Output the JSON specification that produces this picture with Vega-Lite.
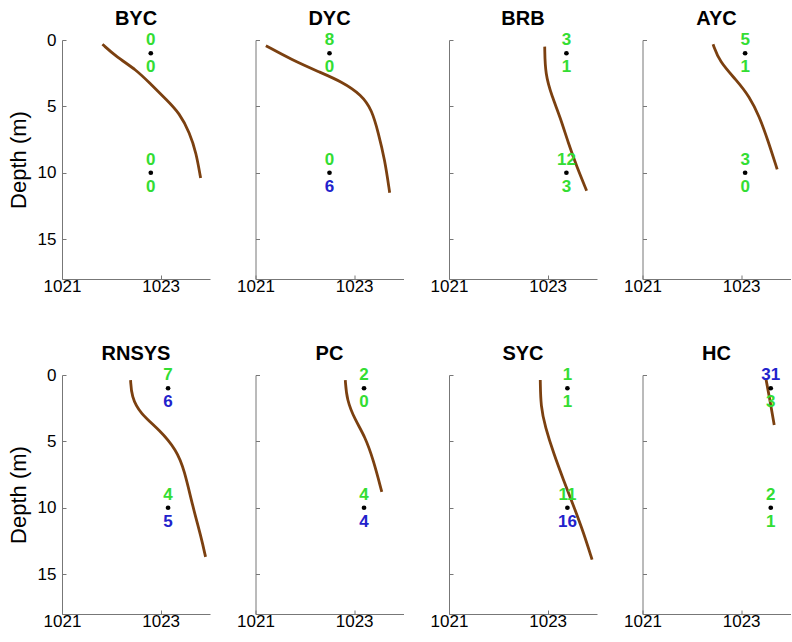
{
  "$schema": "https://vega.github.io/schema/vega-lite/v6.json",
  "padding": {"left": 7, "top": 9, "right": 5, "bottom": 5},
  "background": "white",
  "data": {"values": [
    {"site":"BYC","kind":"c","x":1021.82,"depth":0.32},{"site":"BYC","kind":"c","x":1022.1,"depth":1.26},{"site":"BYC","kind":"c","x":1022.51,"depth":2.26},{"site":"BYC","kind":"c","x":1022.78,"depth":3.26},{"site":"BYC","kind":"c","x":1023.12,"depth":4.5},{"site":"BYC","kind":"c","x":1023.38,"depth":5.5},{"site":"BYC","kind":"c","x":1023.59,"depth":7.0},{"site":"BYC","kind":"c","x":1023.72,"depth":8.5},{"site":"BYC","kind":"c","x":1023.81,"depth":10.4},
    {"site":"DYC","kind":"c","x":1021.21,"depth":0.43},{"site":"DYC","kind":"c","x":1021.74,"depth":1.5},{"site":"DYC","kind":"c","x":1022.28,"depth":2.39},{"site":"DYC","kind":"c","x":1022.75,"depth":3.14},{"site":"DYC","kind":"c","x":1023.15,"depth":4.14},{"site":"DYC","kind":"c","x":1023.36,"depth":5.27},{"site":"DYC","kind":"c","x":1023.49,"depth":7.0},{"site":"DYC","kind":"c","x":1023.62,"depth":9.0},{"site":"DYC","kind":"c","x":1023.72,"depth":11.5},
    {"site":"BRB","kind":"c","x":1022.94,"depth":0.5},{"site":"BRB","kind":"c","x":1022.95,"depth":2.6},{"site":"BRB","kind":"c","x":1023.09,"depth":4.27},{"site":"BRB","kind":"c","x":1023.25,"depth":5.77},{"site":"BRB","kind":"c","x":1023.42,"depth":7.78},{"site":"BRB","kind":"c","x":1023.59,"depth":9.54},{"site":"BRB","kind":"c","x":1023.79,"depth":11.35},
    {"site":"AYC","kind":"c","x":1022.43,"depth":0.32},{"site":"AYC","kind":"c","x":1022.56,"depth":1.63},{"site":"AYC","kind":"c","x":1022.9,"depth":3.0},{"site":"AYC","kind":"c","x":1023.17,"depth":4.27},{"site":"AYC","kind":"c","x":1023.37,"depth":5.77},{"site":"AYC","kind":"c","x":1023.54,"depth":7.53},{"site":"AYC","kind":"c","x":1023.73,"depth":9.74},
    {"site":"RNSYS","kind":"c","x":1022.39,"depth":0.38},{"site":"RNSYS","kind":"c","x":1022.41,"depth":1.63},{"site":"RNSYS","kind":"c","x":1022.58,"depth":2.89},{"site":"RNSYS","kind":"c","x":1022.98,"depth":4.14},{"site":"RNSYS","kind":"c","x":1023.32,"depth":5.65},{"site":"RNSYS","kind":"c","x":1023.48,"depth":7.15},{"site":"RNSYS","kind":"c","x":1023.65,"depth":9.9},{"site":"RNSYS","kind":"c","x":1023.82,"depth":12.2},{"site":"RNSYS","kind":"c","x":1023.91,"depth":13.7},
    {"site":"PC","kind":"c","x":1022.82,"depth":0.38},{"site":"PC","kind":"c","x":1022.85,"depth":1.88},{"site":"PC","kind":"c","x":1023.02,"depth":3.39},{"site":"PC","kind":"c","x":1023.22,"depth":4.64},{"site":"PC","kind":"c","x":1023.39,"depth":6.4},{"site":"PC","kind":"c","x":1023.56,"depth":8.8},
    {"site":"SYC","kind":"c","x":1022.85,"depth":0.38},{"site":"SYC","kind":"c","x":1022.86,"depth":2.39},{"site":"SYC","kind":"c","x":1022.95,"depth":3.89},{"site":"SYC","kind":"c","x":1023.12,"depth":5.9},{"site":"SYC","kind":"c","x":1023.32,"depth":7.9},{"site":"SYC","kind":"c","x":1023.53,"depth":9.9},{"site":"SYC","kind":"c","x":1023.73,"depth":11.9},{"site":"SYC","kind":"c","x":1023.9,"depth":13.9},
    {"site":"HC","kind":"c","x":1023.5,"depth":0.25},{"site":"HC","kind":"c","x":1023.57,"depth":1.63},{"site":"HC","kind":"c","x":1023.67,"depth":3.76},
    {"site":"BYC","kind":"t","x":1022.8,"depth":1,"n":"0","cls":"g"},{"site":"BYC","kind":"b","x":1022.8,"depth":1,"n":"0","cls":"g"},{"site":"BYC","kind":"t","x":1022.8,"depth":10,"n":"0","cls":"g"},{"site":"BYC","kind":"b","x":1022.8,"depth":10,"n":"0","cls":"g"},
    {"site":"DYC","kind":"t","x":1022.5,"depth":1,"n":"8","cls":"g"},{"site":"DYC","kind":"b","x":1022.5,"depth":1,"n":"0","cls":"g"},{"site":"DYC","kind":"t","x":1022.5,"depth":10,"n":"0","cls":"g"},{"site":"DYC","kind":"b","x":1022.5,"depth":10,"n":"6","cls":"b"},
    {"site":"BRB","kind":"t","x":1023.38,"depth":1,"n":"3","cls":"g"},{"site":"BRB","kind":"b","x":1023.38,"depth":1,"n":"1","cls":"g"},{"site":"BRB","kind":"t","x":1023.38,"depth":10,"n":"12","cls":"g"},{"site":"BRB","kind":"b","x":1023.38,"depth":10,"n":"3","cls":"g"},
    {"site":"AYC","kind":"t","x":1023.08,"depth":1,"n":"5","cls":"g"},{"site":"AYC","kind":"b","x":1023.08,"depth":1,"n":"1","cls":"g"},{"site":"AYC","kind":"t","x":1023.08,"depth":10,"n":"3","cls":"g"},{"site":"AYC","kind":"b","x":1023.08,"depth":10,"n":"0","cls":"g"},
    {"site":"RNSYS","kind":"t","x":1023.15,"depth":1,"n":"7","cls":"g"},{"site":"RNSYS","kind":"b","x":1023.15,"depth":1,"n":"6","cls":"b"},{"site":"RNSYS","kind":"t","x":1023.15,"depth":10,"n":"4","cls":"g"},{"site":"RNSYS","kind":"b","x":1023.15,"depth":10,"n":"5","cls":"b"},
    {"site":"PC","kind":"t","x":1023.2,"depth":1,"n":"2","cls":"g"},{"site":"PC","kind":"b","x":1023.2,"depth":1,"n":"0","cls":"g"},{"site":"PC","kind":"t","x":1023.2,"depth":10,"n":"4","cls":"g"},{"site":"PC","kind":"b","x":1023.2,"depth":10,"n":"4","cls":"b"},
    {"site":"SYC","kind":"t","x":1023.4,"depth":1,"n":"1","cls":"g"},{"site":"SYC","kind":"b","x":1023.4,"depth":1,"n":"1","cls":"g"},{"site":"SYC","kind":"t","x":1023.4,"depth":10,"n":"11","cls":"g"},{"site":"SYC","kind":"b","x":1023.4,"depth":10,"n":"16","cls":"b"},
    {"site":"HC","kind":"t","x":1023.6,"depth":1,"n":"31","cls":"b"},{"site":"HC","kind":"b","x":1023.6,"depth":1,"n":"3","cls":"g"},{"site":"HC","kind":"t","x":1023.6,"depth":10,"n":"2","cls":"g"},{"site":"HC","kind":"b","x":1023.6,"depth":10,"n":"1","cls":"g"}
  ]},
  "columns": 4,
  "spacing": {"row": 96, "column": 45.5},
  "bounds": "flush",
  "concat": [
    {"title":"BYC","width":148,"height":239,"transform":[{"filter":"datum.site==='BYC'"}],
     "encoding":{"x":{"field":"x","type":"quantitative","scale":{"domain":[1021,1024],"nice":false,"zero":false},"axis":{"values":[1021,1023],"title":null,"format":"d"}},
                 "y":{"field":"depth","type":"quantitative","scale":{"domain":[0,18],"reverse":true,"nice":false,"zero":false},"axis":{"values":[0,5,10,15],"title":"Depth (m)"}}},
     "layer":[
      {"transform":[{"filter":"datum.kind==='c'"}],"mark":{"type":"line","color":"#7b4010","strokeWidth":2.8,"interpolate":"basis"},"encoding":{"order":{"field":"depth","type":"quantitative"}}},
      {"transform":[{"filter":"datum.kind==='t'"}],"mark":{"type":"circle","color":"black","opacity":1,"size":22},"encoding":{}},
      {"transform":[{"filter":"datum.kind==='t'"}],"mark":{"type":"text","dy":-13,"baseline":"middle","fontSize":17,"fontWeight":"bold","font":"Liberation Sans"},"encoding":{"text":{"field":"n"},"color":{"field":"cls","type":"nominal","scale":{"domain":["g","b"],"range":["#33dd33","#2222cc"]},"legend":null}}},
      {"transform":[{"filter":"datum.kind==='b'"}],"mark":{"type":"text","dy":14,"baseline":"middle","fontSize":17,"fontWeight":"bold","font":"Liberation Sans"},"encoding":{"text":{"field":"n"},"color":{"field":"cls","type":"nominal","scale":{"domain":["g","b"],"range":["#33dd33","#2222cc"]},"legend":null}}}
     ]},
    {"title":"DYC","width":148,"height":239,"transform":[{"filter":"datum.site==='DYC'"}],
     "encoding":{"x":{"field":"x","type":"quantitative","scale":{"domain":[1021,1024],"nice":false,"zero":false},"axis":{"values":[1021,1023],"title":null,"format":"d"}},
                 "y":{"field":"depth","type":"quantitative","scale":{"domain":[0,18],"reverse":true,"nice":false,"zero":false},"axis":{"values":[0,5,10,15],"title":null,"labels":false}}},
     "layer":[
      {"transform":[{"filter":"datum.kind==='c'"}],"mark":{"type":"line","color":"#7b4010","strokeWidth":2.8,"interpolate":"basis"},"encoding":{"order":{"field":"depth","type":"quantitative"}}},
      {"transform":[{"filter":"datum.kind==='t'"}],"mark":{"type":"circle","color":"black","opacity":1,"size":22},"encoding":{}},
      {"transform":[{"filter":"datum.kind==='t'"}],"mark":{"type":"text","dy":-13,"baseline":"middle","fontSize":17,"fontWeight":"bold","font":"Liberation Sans"},"encoding":{"text":{"field":"n"},"color":{"field":"cls","type":"nominal","scale":{"domain":["g","b"],"range":["#33dd33","#2222cc"]},"legend":null}}},
      {"transform":[{"filter":"datum.kind==='b'"}],"mark":{"type":"text","dy":14,"baseline":"middle","fontSize":17,"fontWeight":"bold","font":"Liberation Sans"},"encoding":{"text":{"field":"n"},"color":{"field":"cls","type":"nominal","scale":{"domain":["g","b"],"range":["#33dd33","#2222cc"]},"legend":null}}}
     ]},
    {"title":"BRB","width":148,"height":239,"transform":[{"filter":"datum.site==='BRB'"}],
     "encoding":{"x":{"field":"x","type":"quantitative","scale":{"domain":[1021,1024],"nice":false,"zero":false},"axis":{"values":[1021,1023],"title":null,"format":"d"}},
                 "y":{"field":"depth","type":"quantitative","scale":{"domain":[0,18],"reverse":true,"nice":false,"zero":false},"axis":{"values":[0,5,10,15],"title":null,"labels":false}}},
     "layer":[
      {"transform":[{"filter":"datum.kind==='c'"}],"mark":{"type":"line","color":"#7b4010","strokeWidth":2.8,"interpolate":"basis"},"encoding":{"order":{"field":"depth","type":"quantitative"}}},
      {"transform":[{"filter":"datum.kind==='t'"}],"mark":{"type":"circle","color":"black","opacity":1,"size":22},"encoding":{}},
      {"transform":[{"filter":"datum.kind==='t'"}],"mark":{"type":"text","dy":-13,"baseline":"middle","fontSize":17,"fontWeight":"bold","font":"Liberation Sans"},"encoding":{"text":{"field":"n"},"color":{"field":"cls","type":"nominal","scale":{"domain":["g","b"],"range":["#33dd33","#2222cc"]},"legend":null}}},
      {"transform":[{"filter":"datum.kind==='b'"}],"mark":{"type":"text","dy":14,"baseline":"middle","fontSize":17,"fontWeight":"bold","font":"Liberation Sans"},"encoding":{"text":{"field":"n"},"color":{"field":"cls","type":"nominal","scale":{"domain":["g","b"],"range":["#33dd33","#2222cc"]},"legend":null}}}
     ]},
    {"title":"AYC","width":148,"height":239,"transform":[{"filter":"datum.site==='AYC'"}],
     "encoding":{"x":{"field":"x","type":"quantitative","scale":{"domain":[1021,1024],"nice":false,"zero":false},"axis":{"values":[1021,1023],"title":null,"format":"d"}},
                 "y":{"field":"depth","type":"quantitative","scale":{"domain":[0,18],"reverse":true,"nice":false,"zero":false},"axis":{"values":[0,5,10,15],"title":null,"labels":false}}},
     "layer":[
      {"transform":[{"filter":"datum.kind==='c'"}],"mark":{"type":"line","color":"#7b4010","strokeWidth":2.8,"interpolate":"basis"},"encoding":{"order":{"field":"depth","type":"quantitative"}}},
      {"transform":[{"filter":"datum.kind==='t'"}],"mark":{"type":"circle","color":"black","opacity":1,"size":22},"encoding":{}},
      {"transform":[{"filter":"datum.kind==='t'"}],"mark":{"type":"text","dy":-13,"baseline":"middle","fontSize":17,"fontWeight":"bold","font":"Liberation Sans"},"encoding":{"text":{"field":"n"},"color":{"field":"cls","type":"nominal","scale":{"domain":["g","b"],"range":["#33dd33","#2222cc"]},"legend":null}}},
      {"transform":[{"filter":"datum.kind==='b'"}],"mark":{"type":"text","dy":14,"baseline":"middle","fontSize":17,"fontWeight":"bold","font":"Liberation Sans"},"encoding":{"text":{"field":"n"},"color":{"field":"cls","type":"nominal","scale":{"domain":["g","b"],"range":["#33dd33","#2222cc"]},"legend":null}}}
     ]},
    {"title":"RNSYS","width":148,"height":239,"transform":[{"filter":"datum.site==='RNSYS'"}],
     "encoding":{"x":{"field":"x","type":"quantitative","scale":{"domain":[1021,1024],"nice":false,"zero":false},"axis":{"values":[1021,1023],"title":null,"format":"d"}},
                 "y":{"field":"depth","type":"quantitative","scale":{"domain":[0,18],"reverse":true,"nice":false,"zero":false},"axis":{"values":[0,5,10,15],"title":"Depth (m)"}}},
     "layer":[
      {"transform":[{"filter":"datum.kind==='c'"}],"mark":{"type":"line","color":"#7b4010","strokeWidth":2.8,"interpolate":"basis"},"encoding":{"order":{"field":"depth","type":"quantitative"}}},
      {"transform":[{"filter":"datum.kind==='t'"}],"mark":{"type":"circle","color":"black","opacity":1,"size":22},"encoding":{}},
      {"transform":[{"filter":"datum.kind==='t'"}],"mark":{"type":"text","dy":-13,"baseline":"middle","fontSize":17,"fontWeight":"bold","font":"Liberation Sans"},"encoding":{"text":{"field":"n"},"color":{"field":"cls","type":"nominal","scale":{"domain":["g","b"],"range":["#33dd33","#2222cc"]},"legend":null}}},
      {"transform":[{"filter":"datum.kind==='b'"}],"mark":{"type":"text","dy":14,"baseline":"middle","fontSize":17,"fontWeight":"bold","font":"Liberation Sans"},"encoding":{"text":{"field":"n"},"color":{"field":"cls","type":"nominal","scale":{"domain":["g","b"],"range":["#33dd33","#2222cc"]},"legend":null}}}
     ]},
    {"title":"PC","width":148,"height":239,"transform":[{"filter":"datum.site==='PC'"}],
     "encoding":{"x":{"field":"x","type":"quantitative","scale":{"domain":[1021,1024],"nice":false,"zero":false},"axis":{"values":[1021,1023],"title":null,"format":"d"}},
                 "y":{"field":"depth","type":"quantitative","scale":{"domain":[0,18],"reverse":true,"nice":false,"zero":false},"axis":{"values":[0,5,10,15],"title":null,"labels":false}}},
     "layer":[
      {"transform":[{"filter":"datum.kind==='c'"}],"mark":{"type":"line","color":"#7b4010","strokeWidth":2.8,"interpolate":"basis"},"encoding":{"order":{"field":"depth","type":"quantitative"}}},
      {"transform":[{"filter":"datum.kind==='t'"}],"mark":{"type":"circle","color":"black","opacity":1,"size":22},"encoding":{}},
      {"transform":[{"filter":"datum.kind==='t'"}],"mark":{"type":"text","dy":-13,"baseline":"middle","fontSize":17,"fontWeight":"bold","font":"Liberation Sans"},"encoding":{"text":{"field":"n"},"color":{"field":"cls","type":"nominal","scale":{"domain":["g","b"],"range":["#33dd33","#2222cc"]},"legend":null}}},
      {"transform":[{"filter":"datum.kind==='b'"}],"mark":{"type":"text","dy":14,"baseline":"middle","fontSize":17,"fontWeight":"bold","font":"Liberation Sans"},"encoding":{"text":{"field":"n"},"color":{"field":"cls","type":"nominal","scale":{"domain":["g","b"],"range":["#33dd33","#2222cc"]},"legend":null}}}
     ]},
    {"title":"SYC","width":148,"height":239,"transform":[{"filter":"datum.site==='SYC'"}],
     "encoding":{"x":{"field":"x","type":"quantitative","scale":{"domain":[1021,1024],"nice":false,"zero":false},"axis":{"values":[1021,1023],"title":null,"format":"d"}},
                 "y":{"field":"depth","type":"quantitative","scale":{"domain":[0,18],"reverse":true,"nice":false,"zero":false},"axis":{"values":[0,5,10,15],"title":null,"labels":false}}},
     "layer":[
      {"transform":[{"filter":"datum.kind==='c'"}],"mark":{"type":"line","color":"#7b4010","strokeWidth":2.8,"interpolate":"basis"},"encoding":{"order":{"field":"depth","type":"quantitative"}}},
      {"transform":[{"filter":"datum.kind==='t'"}],"mark":{"type":"circle","color":"black","opacity":1,"size":22},"encoding":{}},
      {"transform":[{"filter":"datum.kind==='t'"}],"mark":{"type":"text","dy":-13,"baseline":"middle","fontSize":17,"fontWeight":"bold","font":"Liberation Sans"},"encoding":{"text":{"field":"n"},"color":{"field":"cls","type":"nominal","scale":{"domain":["g","b"],"range":["#33dd33","#2222cc"]},"legend":null}}},
      {"transform":[{"filter":"datum.kind==='b'"}],"mark":{"type":"text","dy":14,"baseline":"middle","fontSize":17,"fontWeight":"bold","font":"Liberation Sans"},"encoding":{"text":{"field":"n"},"color":{"field":"cls","type":"nominal","scale":{"domain":["g","b"],"range":["#33dd33","#2222cc"]},"legend":null}}}
     ]},
    {"title":"HC","width":148,"height":239,"transform":[{"filter":"datum.site==='HC'"}],
     "encoding":{"x":{"field":"x","type":"quantitative","scale":{"domain":[1021,1024],"nice":false,"zero":false},"axis":{"values":[1021,1023],"title":null,"format":"d"}},
                 "y":{"field":"depth","type":"quantitative","scale":{"domain":[0,18],"reverse":true,"nice":false,"zero":false},"axis":{"values":[0,5,10,15],"title":null,"labels":false}}},
     "layer":[
      {"transform":[{"filter":"datum.kind==='c'"}],"mark":{"type":"line","color":"#7b4010","strokeWidth":2.8,"interpolate":"basis"},"encoding":{"order":{"field":"depth","type":"quantitative"}}},
      {"transform":[{"filter":"datum.kind==='t'"}],"mark":{"type":"circle","color":"black","opacity":1,"size":22},"encoding":{}},
      {"transform":[{"filter":"datum.kind==='t'"}],"mark":{"type":"text","dy":-13,"baseline":"middle","fontSize":17,"fontWeight":"bold","font":"Liberation Sans"},"encoding":{"text":{"field":"n"},"color":{"field":"cls","type":"nominal","scale":{"domain":["g","b"],"range":["#33dd33","#2222cc"]},"legend":null}}},
      {"transform":[{"filter":"datum.kind==='b'"}],"mark":{"type":"text","dy":14,"baseline":"middle","fontSize":17,"fontWeight":"bold","font":"Liberation Sans"},"encoding":{"text":{"field":"n"},"color":{"field":"cls","type":"nominal","scale":{"domain":["g","b"],"range":["#33dd33","#2222cc"]},"legend":null}}}
     ]}
  ],
  "config": {
    "view": {"stroke": null},
    "axis": {"grid": false, "domainColor": "#777777", "tickColor": "#777777", "tickSize": -4, "labelFlush": false, "labelFont": "Liberation Sans", "labelFontSize": 17, "labelColor": "black", "labelPadding": 4, "titleFont": "Liberation Sans", "titleFontSize": 22, "titleFontWeight": "normal", "titleColor": "black", "titlePadding": 7},
    "axisX": {"labelPadding": 3},
    "axisY": {"labelPadding": 10},
    "title": {"font": "Liberation Sans", "fontSize": 20, "fontWeight": "bold", "color": "black", "frame": "group", "anchor": "middle", "offset": 2}
  }
}
